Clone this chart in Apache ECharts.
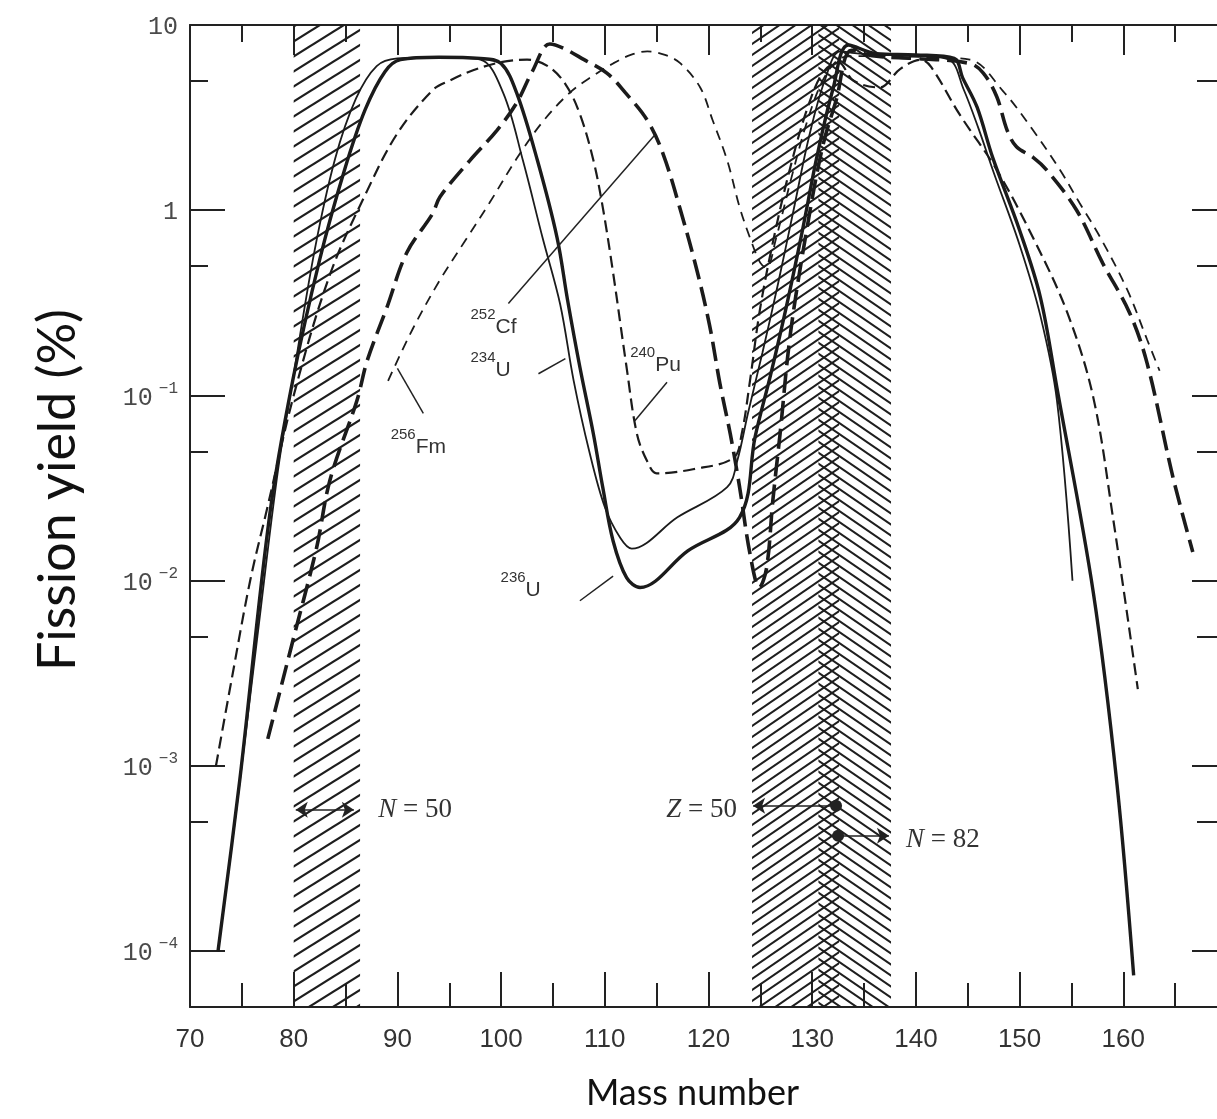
<!DOCTYPE html>
<html>
<head>
<meta charset="utf-8">
<title>Fission yield vs mass number</title>
<script src="https://cdn.jsdelivr.net/npm/echarts@6/dist/echarts.min.js"></script>
<style>
  html, body { margin: 0; padding: 0; background: #fff; }
  #chart { width: 1217px; height: 1119px; }
</style>
</head>
<body>
<div id="chart"></div>
<script>
// mass number -> fission yield (%)
const massU234 = [72.7, 74.5, 76.5, 78.5, 80, 82, 84, 86, 88, 90, 94, 98, 100.2, 102.1, 104, 105.7, 107, 108.5, 110, 111.5, 112.6, 117, 121.8, 122.8, 123.8, 125.2, 126.7, 128.2, 129.7, 131.2, 132.7, 134.5, 140, 143.2, 144.6, 146, 147.5, 150, 152, 153.6, 155.1]
const yieldU234 = [1e-4, 6e-4, 5e-3, 0.04, 0.13, 0.6, 1.9, 4.0, 6.0, 6.6, 6.7, 6.5, 4.3, 1.86, 0.71, 0.31, 0.12, 0.05, 0.025, 0.017, 0.0149, 0.022, 0.032, 0.045, 0.08, 0.17, 0.4, 1.0, 2.5, 5.0, 7.2, 7.0, 6.8, 6.5, 4.5, 2.8, 1.6, 0.65, 0.27, 0.094, 0.01]

const massU236 = [72.7, 74.8, 77.7, 79.9, 82.5, 84.9, 86.9, 88.8, 90.3, 94, 98, 100, 101.5, 103.5, 105.4, 106.4, 107.6, 108.9, 109.8, 110.8, 112.1, 113.4, 118, 123, 124.5, 126, 127.5, 129, 130.5, 132, 133.5, 136.2, 140, 143.7, 144.5, 145.9, 147.4, 150, 152, 153.6, 157.1, 159.4, 161]
const yieldU236 = [1e-4, 8.4e-4, 0.023, 0.12, 0.54, 1.65, 3.5, 5.6, 6.5, 6.7, 6.6, 6.2, 4.3, 1.86, 0.71, 0.33, 0.142, 0.062, 0.032, 0.0164, 0.0104, 0.0092, 0.0145, 0.022, 0.06, 0.13, 0.3, 0.75, 2.0, 4.5, 7.8, 7.0, 6.9, 6.6, 5.2, 3.6, 1.93, 0.78, 0.34, 0.11, 0.0087, 7.9e-4, 7.4e-5]

const massPu240 = [72.5, 74, 75.8, 77.4, 80, 83.5, 87.1, 90, 93.4, 95, 97.3, 100, 102.5, 104.5, 106.2, 107.6, 108.9, 109.8, 110.8, 112.1, 113.1, 114.1, 115, 118.5, 122.4, 123.2, 124, 125, 126.5, 128, 129.5, 131, 132.5, 134, 136.5, 138.5, 140.5, 141.5, 144.2, 147.8, 151.3, 154.6, 157.1, 159, 161.4]
const yieldPu240 = [1e-3, 2.9e-3, 0.01, 0.024, 0.1, 0.45, 1.28, 2.6, 4.45, 5.0, 5.7, 6.3, 6.5, 6.0, 4.8, 3.3, 1.86, 1.04, 0.46, 0.142, 0.062, 0.044, 0.038, 0.04, 0.046, 0.062, 0.12, 0.3, 0.8, 1.8, 3.5, 5.5, 6.3, 5.0, 4.6, 5.8, 6.5, 5.9, 3.3, 1.65, 0.71, 0.28, 0.098, 0.022, 0.0026]

const massCf252 = [77.5, 79.9, 82.2, 83.5, 86.1, 87.1, 89, 90.9, 93.4, 94.1, 97, 99.6, 101.5, 103, 104.7, 106, 108, 110.2, 112, 114.1, 115.6, 117.3, 118.9, 120.1, 121.1, 122.1, 123, 124, 124.9, 125.6, 126.2, 126.9, 127.9, 129.5, 131, 132.3, 133.8, 136, 140, 145.2, 146.5, 147.8, 148.8, 149.7, 151.3, 152.6, 155.5, 158, 160.6, 162.3, 164.8, 166.7]
const yieldCf252 = [1.4e-3, 4.7e-3, 0.015, 0.035, 0.094, 0.155, 0.3, 0.59, 0.96, 1.18, 1.86, 2.7, 3.8, 5.6, 7.9, 7.5, 6.5, 5.5, 4.3, 3.06, 2.03, 1.0, 0.47, 0.24, 0.116, 0.062, 0.032, 0.014, 0.0092, 0.0117, 0.027, 0.062, 0.216, 0.8, 2.2, 3.9, 7.3, 6.8, 6.6, 6.2, 5.5, 4.1, 2.7, 2.2, 1.93, 1.65, 1.0, 0.52, 0.28, 0.149, 0.036, 0.0143]

const massFm256 = [89.1, 91.5, 94.1, 96.5, 98.9, 101.5, 104, 106.6, 108.6, 110.8, 112.5, 114.1, 115.8, 117.3, 119.2, 120.4, 121.8, 123, 124, 125, 125.6, 126.5, 128, 129.5, 131, 132.5, 134, 137, 141, 145.2, 148.4, 151.3, 153.9, 155.8, 157.8, 160.4, 162.3, 163.5]
const yieldFm256 = [0.12, 0.23, 0.42, 0.68, 1.1, 1.9, 3.0, 4.3, 5.2, 6.2, 6.9, 7.2, 6.9, 6.2, 4.6, 3.06, 1.86, 1.04, 0.71, 0.52, 0.49, 0.7, 1.5, 3.0, 5.0, 6.5, 6.8, 6.8, 6.7, 6.5, 4.4, 2.7, 1.65, 1.09, 0.71, 0.37, 0.2, 0.136]

// shell closure bands (mass number ranges)
const bandN50 = [80.0, 86.4]
const bandZ50 = [124.2, 132.6]
const bandN82 = [130.6, 137.6]

const halfDecadeTicks = [5e-4, 5e-3, 5e-2, 0.5, 5]

const pairs = (m, y) => m.map((x, i) => [x, y[i]])

function hatch (back, w, h, lw) {
  const c = document.createElement('canvas')
  c.width = w
  c.height = h
  const ctx = c.getContext('2d')
  ctx.strokeStyle = '#1e1e1e'
  ctx.lineWidth = lw
  ctx.beginPath()
  const segs = back
    ? [[w, h, 0, 0], [2 * w, h, 0, -h], [w, 2 * h, -w, 0]]
    : [[0, h, w, 0], [-w, h, w, -h], [0, 2 * h, 2 * w, 0]]
  segs.forEach(s => { ctx.moveTo(s[0], s[1]); ctx.lineTo(s[2], s[3]) })
  ctx.stroke()
  return { image: c, repeat: 'repeat' }
}

function curve (name, m, y, width, dash) {
  return {
    name: name,
    type: 'line',
    data: pairs(m, y),
    showSymbol: false,
    smooth: 0.35,
    silent: true,
    z: 3,
    lineStyle: { color: '#1b1b1b', width: width, type: dash || 'solid', cap: 'butt' }
  }
}

const isoRich = {
  sup: { fontSize: 15, fontFamily: 'Liberation Sans', color: '#333', verticalAlign: 'top', lineHeight: 30 },
  el: { fontSize: 21, fontFamily: 'Liberation Sans', color: '#333', verticalAlign: 'bottom', lineHeight: 30 },
  it: { fontSize: 27, fontFamily: 'Liberation Serif', fontStyle: 'italic', color: '#333' },
  rm: { fontSize: 27, fontFamily: 'Liberation Serif', color: '#333' }
}

function textMark (coord, text, side) {
  return {
    coord: coord,
    symbol: 'rect',
    symbolSize: 1,
    itemStyle: { color: 'rgba(0,0,0,0)' },
    label: { show: true, position: side || 'right', distance: 0, formatter: text, rich: isoRich }
  }
}

function seg (a, b, s0, s1) {
  return [{ coord: a, symbol: s0 || 'none' }, { coord: b, symbol: s1 || 'none' }]
}

const chart = echarts.init(document.getElementById('chart'))

const logTickLabel = function (v) {
  const e = Math.round(Math.log10(v))
  if (e === 1) return '{b|10}'
  if (e === 0) return '{b|1}'
  return '{b|10}{s|\u2212' + (-e) + '}'
}

const option = {
  animation: false,
  backgroundColor: '#fff',
  grid: { left: 190, right: -10, top: 25, bottom: 112, outerBoundsMode: 'none', containLabel: false },
  xAxis: [
    {
      type: 'value', min: 70, max: 170, interval: 10, position: 'bottom',
      name: 'Mass number', nameLocation: 'middle', nameGap: 68,
      nameTextStyle: { fontSize: 36, fontFamily: 'Lato', color: '#111', padding: [0, 32, 0, 0] },
      axisLine: { onZero: false, lineStyle: { color: '#222', width: 2 } },
      axisTick: { inside: true, length: 35, lineStyle: { color: '#222', width: 2 } },
      minorTick: { show: true, splitNumber: 2, length: 24, lineStyle: { color: '#222', width: 2 } },
      axisLabel: { margin: 20, fontSize: 26, fontFamily: 'Liberation Sans', color: '#333', showMaxLabel: false },
      splitLine: { show: false }
    },
    {
      type: 'value', min: 70, max: 170, interval: 10, position: 'top',
      axisLine: { onZero: false, lineStyle: { color: '#222', width: 2 } },
      axisTick: { inside: true, length: 30, lineStyle: { color: '#222', width: 2 } },
      minorTick: { show: true, splitNumber: 2, length: 17, lineStyle: { color: '#222', width: 2 } },
      axisLabel: { show: false },
      splitLine: { show: false }
    }
  ],
  yAxis: [
    {
      type: 'log', min: 5e-5, max: 10, position: 'left',
      name: 'Fission yield (%)', nameLocation: 'middle', nameGap: 106, nameRotate: 90,
      nameTextStyle: { fontSize: 52, fontFamily: 'Lato', color: '#111', padding: [0, 0, 0, 52] },
      axisLine: { onZero: false, lineStyle: { color: '#222', width: 2 } },
      axisTick: { inside: true, length: 35, lineStyle: { color: '#222', width: 2 } },
      axisLabel: {
        margin: 12, showMinLabel: false, formatter: logTickLabel,
        rich: {
          b: { fontSize: 25, fontFamily: 'Liberation Mono', color: '#4a4a4a', lineHeight: 30, verticalAlign: 'bottom' },
          s: { fontSize: 16, fontFamily: 'Liberation Mono', color: '#4a4a4a', lineHeight: 30, verticalAlign: 'top', padding: [0, 0, 0, 6] }
        }
      },
      splitLine: { show: false }
    },
    {
      type: 'log', min: 5e-5, max: 10, position: 'right',
      axisLine: { show: false, onZero: false },
      axisTick: { inside: true, length: 35, lineStyle: { color: '#222', width: 2 } },
      axisLabel: { show: false },
      splitLine: { show: false }
    },
    {
      type: 'value', min: Math.log10(5e-5), max: 1, interval: 1, position: 'left',
      axisLine: { show: false, onZero: false },
      axisTick: { inside: true, length: 18, customValues: halfDecadeTicks.map(Math.log10), lineStyle: { color: '#222', width: 2 } },
      axisLabel: { show: false },
      splitLine: { show: false }
    },
    {
      type: 'value', min: Math.log10(5e-5), max: 1, interval: 1, position: 'right',
      axisLine: { show: false, onZero: false },
      axisTick: { inside: true, length: 30, customValues: halfDecadeTicks.map(Math.log10), lineStyle: { color: '#222', width: 2 } },
      axisLabel: { show: false },
      splitLine: { show: false }
    }
  ],
  series: [
    {
      name: 'bands',
      type: 'line',
      data: [],
      silent: true,
      z: 1,
      markArea: {
        silent: true,
        label: { show: false },
        data: [
          [{ xAxis: bandN50[0], itemStyle: { color: hatch(false, 24, 15, 2.2) } }, { xAxis: bandN50[1] }],
          [{ xAxis: bandZ50[0], itemStyle: { color: hatch(false, 16, 11, 2) } }, { xAxis: bandZ50[1] }],
          [{ xAxis: bandN82[0], itemStyle: { color: hatch(true, 16, 11, 2) } }, { xAxis: bandN82[1] }]
        ]
      },
      markLine: {
        silent: true,
        symbolSize: 12,
        label: { show: false },
        lineStyle: { color: '#222', width: 1.5, type: 'solid' },
        data: [
          seg([80.2, 5.8e-4], [85.8, 5.8e-4], 'arrow', 'arrow'),
          seg([132.3, 6.1e-4], [124.3, 6.1e-4], 'circle', 'arrow'),
          seg([132.5, 4.2e-4], [137.4, 4.2e-4], 'circle', 'arrow'),
          seg([100.7, 0.314], [114.8, 2.54]),
          seg([103.6, 0.131], [106.2, 0.158]),
          seg([116.0, 0.118], [112.9, 0.073]),
          seg([92.5, 0.08], [90.0, 0.14]),
          seg([107.6, 0.0078], [110.8, 0.0106])
        ]
      },
      markPoint: {
        silent: true,
        data: [
          textMark([97.0, 0.248], '{sup|252}{el|Cf}'),
          textMark([97.0, 0.145], '{sup|234}{el|U}'),
          textMark([112.4, 0.155], '{sup|240}{el|Pu}'),
          textMark([89.3, 0.0557], '{sup|256}{el|Fm}'),
          textMark([99.9, 0.0094], '{sup|236}{el|U}'),
          textMark([88.1, 5.8e-4], '{it|N}{rm| = 50}'),
          textMark([122.8, 5.8e-4], '{it|Z}{rm| = 50}', 'left'),
          textMark([139.0, 4.0e-4], '{it|N}{rm| = 82}')
        ]
      }
    },
    curve('234U', massU234, yieldU234, 1.8),
    curve('236U', massU236, yieldU236, 3.4),
    curve('240Pu', massPu240, yieldPu240, 2.2, [12, 6]),
    curve('252Cf', massCf252, yieldCf252, 3.6, [20, 8]),
    curve('256Fm', massFm256, yieldFm256, 1.8, [10, 7])
  ]
}

chart.setOption(option)
</script>
</body>
</html>
